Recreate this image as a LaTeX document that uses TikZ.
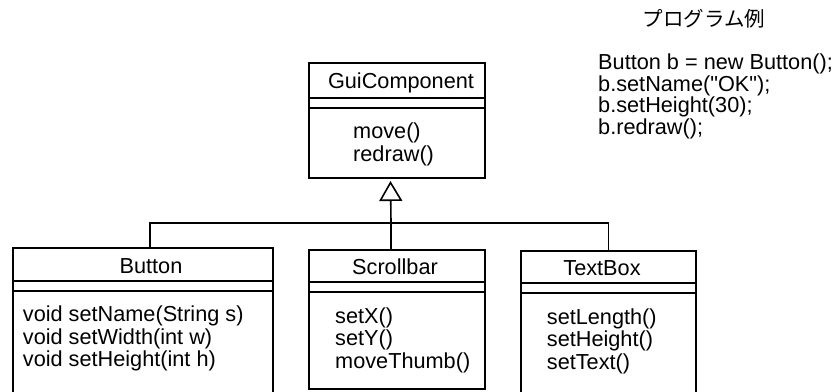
\documentclass[tikz,border=0pt]{standalone}
\usepackage{fontspec}
\setmainfont{Liberation Sans}[Ligatures=TeXOff]
\newfontfamily\jpfont{Noto Sans CJK JP}
\usetikzlibrary{arrows.meta}

\begin{document}
\begin{tikzpicture}[x=1pt, y=-1pt,
		every node/.style={font=\fontsize{21.7}{22}\selectfont, inner sep=0pt},
		classbox/.style={draw, rectangle, line width=1.6pt, outer sep=0pt, anchor=north west},
		cname/.style={anchor=base},
		method/.style={anchor=base west},
		link/.style={line width=1.6pt}]
	\useasboundingbox (0,0) rectangle (834,391);

	\foreach \n/\xl/\xr/\yt/\yb/\h in {gui/309/485/63/178/35, button/13/273/248/420/33, scrollbar/309/485/250/389/32, textbox/521/696/251/420/32} {
			\node[classbox, minimum width=\xr-\xl, minimum height=\yb-\yt] (\n) at (\xl,\yt) {};
			\draw[line width=1.2pt] (\xl,\yt+\h) -- (\xr,\yt+\h);
			\draw[line width=2pt] (\xl,\yt+\h+9.5) -- (\xr,\yt+\h+9.5);
		}

	\node[cname] (gui-name) at (401,88) {GuiComponent};
	\node[cname] (button-name) at (151,273) {Button};
	\node[cname] (scrollbar-name) at (395,274) {Scrollbar};
	\node[cname] (textbox-name) at (602,275) {TextBox};

	\foreach \t [count=\i] in {move(), redraw()} {
			\node[method] (gui-m\i) at (353,138+23.5*\i-23.5) {\t};
		}
	\foreach \t [count=\i] in {void setName(String s), void setWidth(int w), void setHeight(int h)} {
			\node[method] (button-m\i) at (22.7,321.7+22.3*\i-22.3) {\t};
		}
	\foreach \t [count=\i] in {setX(), setY(), moveThumb()} {
			\node[method] (scrollbar-m\i) at (335,323+22.5*\i-22.5) {\t};
		}
	\foreach \t [count=\i] in {setLength(), setHeight(), setText()} {
			\node[method] (textbox-m\i) at (546.7,324+22.5*\i-22.5) {\t};
		}

	\coordinate (fork) at (391,223);
	\draw[link] ([xshift=7pt]button.north) |- (fork);
	\draw[link] (textbox.north) |- (fork);
	\draw[link, -{Triangle[open, width=23pt, length=20pt]}] ([xshift=-6pt]scrollbar.north) -- (fork) -- ([xshift=-6.5pt, yshift=-3pt]gui.south);

	\node[font=\jpfont\fontsize{20.5}{22}\selectfont, anchor=base] (title) at (704,26) {プログラム例};
	\foreach \t [count=\i] in {Button b = new Button();, b.setName("OK");, b.setHeight(30);, b.redraw();} {
			\node[method] (code\i) at (598,69.5+21.5*\i-21.5) {\t};
		}
\end{tikzpicture}
\end{document}
